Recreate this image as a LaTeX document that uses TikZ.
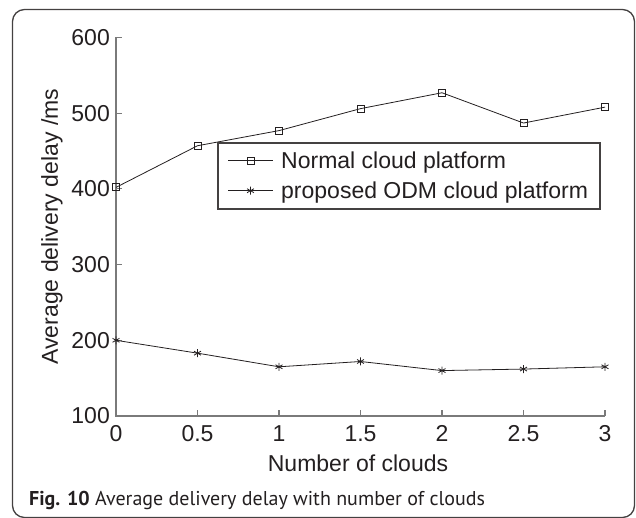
\documentclass[tikz,border=0pt]{standalone}
\usepackage{fontspec}
\setmainfont{Liberation Sans}
\newfontfamily\capfont{PT Sans}
\usetikzlibrary{plotmarks}
\definecolor{axisgray}{HTML}{7A7A7A}
\definecolor{ink}{HTML}{231F20}
\begin{document}
\begin{tikzpicture}[x=1pt,y=-1pt,
  framebox/.style={draw=ink!85, line width=1.3pt, rounded corners=12pt},
  axisline/.style={draw=axisgray, line width=1.2pt},
  ticklab/.style={font=\fontsize{23}{27}\selectfont, inner sep=0pt, text=ink},
  axlab/.style={font=\fontsize{23}{27}\selectfont, inner sep=0pt, text=ink},
  dataline/.style={draw=ink, line width=0.8pt},
  sqmark/.style={mark=square, mark size=3.5pt, mark options={draw=ink, line width=0.8pt, fill=none}},
  astmark/.style={mark=asterisk, mark size=4pt, mark options={draw=ink, line width=0.8pt}},
  legendbox/.style={draw=ink!85, line width=1.3pt, fill=white}
]
\useasboundingbox (0,0) rectangle (636,518);
% outer frame
\draw[framebox] (12.5,9.5) rectangle (634.5,517.5);
% axes
\draw[axisline] (116,37.5) -- (116,416) -- (605,416);
% y ticks and labels
\foreach \v/\yy in {600/37.5,500/113.2,400/188.9,300/264.6,200/340.3,100/416}{
  \draw[axisline] (116,\yy) -- (122,\yy);
  \node[ticklab, anchor=east] (yl\v) at (110,\yy) {\v};
}
% x ticks and labels
\foreach \lab/\xx/\nm in {0/116/a,0.5/197.5/b,1/279/c,1.5/360.5/d,2/442/e,2.5/523.5/f,3/605/g}{
  \draw[axisline] (\xx,416) -- (\xx,410);
  \node[ticklab, anchor=north] (xl\nm) at (\xx,425.5) {\lab};
}
% axis labels
\node[axlab, rotate=90] (ylabel) at (52,226.7) {Average delivery delay /ms};
\node[axlab] (xlabel) at (358,463) {Number of clouds};
% data
\begin{scope}[shift={(116,416)}, x=163pt, y=0.757pt]
  \draw[dataline] plot[sqmark] coordinates {(0,302) (0.5,357) (1,377) (1.5,406) (2,427) (2.5,387) (3,408)};
  \draw[dataline] plot[astmark] coordinates {(0,100) (0.5,83) (1,65) (1.5,72) (2,60) (2.5,62) (3,65)};
\end{scope}
% legend
\draw[legendbox] (218,143) rectangle (600,209);
\draw[dataline] (228,160.7) -- (273,160.7);
\path plot[sqmark] coordinates {(250.5,160.7)};
\draw[dataline] (228,190.7) -- (273,190.7);
\path plot[astmark] coordinates {(250.5,190.7)};
\node[axlab, anchor=base west] (leg1) at (281,169) {Normal cloud platform};
\node[axlab, anchor=base west] (leg2) at (281,199) {proposed ODM cloud platform};
% caption
\node[anchor=base west, inner sep=0pt, text=ink] (cap) at (29,505.5)
  {\capfont\fontsize{20}{24}\selectfont\bfseries Fig. 10\mdseries\ Average delivery delay with number of clouds};
\end{tikzpicture}
\end{document}
